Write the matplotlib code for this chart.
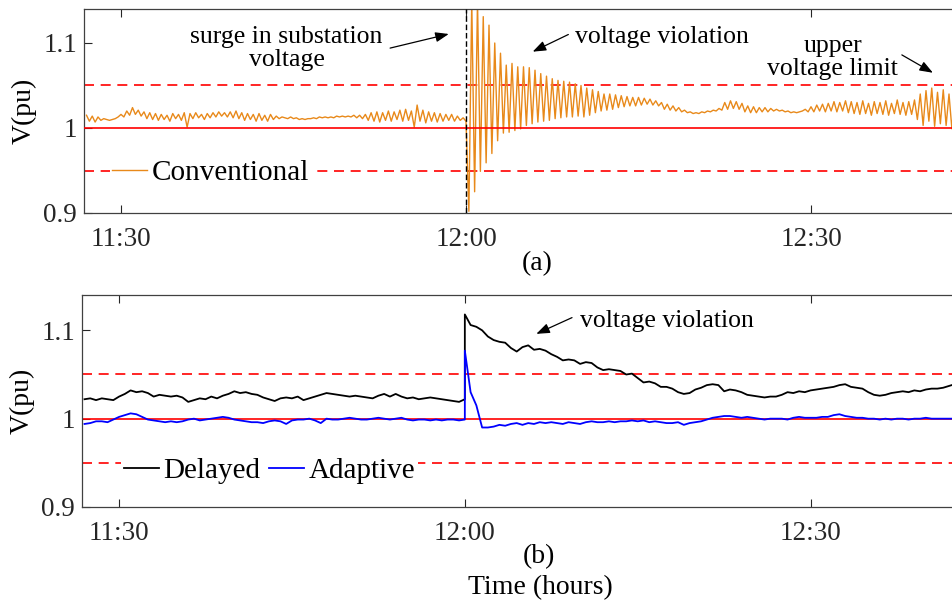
import numpy as np
import matplotlib.pyplot as plt

plt.rcParams['font.family'] = ['Liberation Serif', 'DejaVu Serif']

# time in minutes after 11:00, sampled at fixed steps from the start value
t_a_pre0, t_a_post0, step_a = 27.0, 60.0, 0.25
t_b_pre0, t_b_post0, step_b = 27.0, 60.0, 0.5

# (a) conventional control, before and after the surge at 12:00
conv_pre = [1.015, 1.008, 1.014, 1.007, 1.013, 1.009, 1.011,
            1.010, 1.009, 1.010, 1.011,
            1.013, 1.016, 1.013, 1.020, 1.015, 1.024, 1.016, 1.021, 1.014,
            1.019, 1.011, 1.018, 1.010, 1.017, 1.009, 1.016, 1.010, 1.015,
            1.008, 1.017, 1.011, 1.016, 1.009, 1.018, 1.001, 1.017,
            1.011, 1.018, 1.012, 1.016, 1.010, 1.017, 1.012, 1.018, 1.013,
            1.019, 1.014, 1.018, 1.013, 1.019, 1.012, 1.020, 1.011, 1.018,
            1.009, 1.017, 1.010,
            1.016, 1.008, 1.017, 1.009, 1.015, 1.008, 1.016, 1.010, 1.014,
            1.011, 1.013, 1.012,
            1.011, 1.013, 1.011, 1.012, 1.010, 1.011, 1.010, 1.011, 1.011,
            1.012, 1.011, 1.013, 1.012, 1.013, 1.012, 1.013, 1.012, 1.014,
            1.013, 1.014, 1.013, 1.014, 1.013, 1.015, 1.012, 1.015, 1.011,
            1.016,
            1.009, 1.018, 1.008, 1.019, 1.007, 1.018, 1.009, 1.020, 1.008,
            1.019, 1.010, 1.021, 1.008, 1.022, 1.009, 1.020, 1.001, 1.027,
            1.008, 1.021, 1.006, 1.019, 1.008, 1.018, 1.007, 1.017, 1.008,
            1.016, 1.009, 1.016, 1.008, 1.014, 1.009, 1.012, 1.008]
conv_post = [1.008, 0.902, 1.150, 0.925, 1.150, 0.949, 1.131, 0.959, 1.121,
             0.970, 1.100, 0.985, 1.088, 0.994, 1.074, 0.995, 1.076, 0.997,
             1.072, 0.999, 1.072, 1.003, 1.071, 1.005, 1.068, 1.007, 1.064,
             1.008, 1.061, 1.009, 1.058, 1.011, 1.056, 1.012, 1.055, 1.013,
             1.054, 1.013, 1.052, 1.014, 1.050, 1.013, 1.047, 1.015, 1.045,
             1.018, 1.043, 1.020, 1.040, 1.021, 1.040, 1.022, 1.039, 1.024,
             1.038, 1.025, 1.037, 1.026, 1.036, 1.026, 1.036, 1.027, 1.035,
             1.028, 1.034, 1.027, 1.032, 1.026,
             1.030, 1.022, 1.028, 1.021, 1.026, 1.020, 1.024, 1.019, 1.021,
             1.018, 1.019, 1.017, 1.018, 1.017, 1.019, 1.018, 1.020, 1.019,
             1.021, 1.020, 1.023, 1.021,
             1.030, 1.022, 1.032, 1.023, 1.031, 1.022, 1.029, 1.019,
             1.026, 1.018, 1.025, 1.018, 1.024, 1.019, 1.024, 1.019, 1.023,
             1.020, 1.022, 1.020, 1.021, 1.019, 1.020, 1.018, 1.019, 1.018,
             1.019, 1.020,
             1.022, 1.019, 1.025, 1.019, 1.027, 1.020, 1.028, 1.019, 1.029,
             1.020, 1.031, 1.019, 1.030, 1.020, 1.032, 1.018,
             1.031, 1.017, 1.030, 1.016, 1.032, 1.017, 1.029, 1.015, 1.031,
             1.017, 1.030, 1.016, 1.032, 1.015, 1.029, 1.017, 1.033, 1.016,
             1.030, 1.015, 1.031, 1.016, 1.033,
             1.010, 1.040, 1.003, 1.044, 1.008, 1.047, 1.002, 1.042, 1.005,
             1.045, 1.003, 1.040, 0.999, 1.038]

# (b) delayed and adaptive control
delayed_pre = [1.022, 1.023, 1.021, 1.023, 1.022, 1.021, 1.025, 1.028, 1.032,
               1.030, 1.031, 1.029, 1.025, 1.027, 1.026, 1.025, 1.026, 1.024,
               1.019, 1.021, 1.023, 1.022, 1.025, 1.023, 1.026, 1.028, 1.031,
               1.029, 1.030, 1.028, 1.027, 1.024, 1.022, 1.020, 1.023, 1.024,
               1.023, 1.025, 1.021, 1.023, 1.025, 1.027, 1.029, 1.028, 1.027,
               1.026, 1.025, 1.026, 1.025, 1.024, 1.023, 1.026, 1.028, 1.025,
               1.028, 1.025, 1.023, 1.024, 1.022, 1.023, 1.024, 1.023, 1.022,
               1.021, 1.020, 1.019, 1.022]
delayed_post = [1.118, 1.106, 1.104, 1.100, 1.093, 1.089, 1.087, 1.086, 1.080,
                1.076, 1.081, 1.083, 1.078, 1.079, 1.077, 1.073, 1.070, 1.066,
                1.067, 1.066, 1.062, 1.064, 1.063, 1.058, 1.055, 1.056, 1.055,
                1.054, 1.050, 1.051, 1.046, 1.041, 1.042, 1.040, 1.036, 1.036,
                1.034, 1.030, 1.028, 1.029, 1.033, 1.035, 1.038, 1.039, 1.038,
                1.031, 1.033, 1.032, 1.030, 1.027, 1.026, 1.025, 1.024, 1.025,
                1.025, 1.027, 1.030, 1.029, 1.031, 1.030, 1.032, 1.033, 1.034,
                1.035, 1.036, 1.038, 1.039, 1.036, 1.035, 1.034, 1.030, 1.027,
                1.026, 1.027, 1.029, 1.030, 1.031, 1.030, 1.032, 1.031, 1.033,
                1.034, 1.034, 1.035, 1.037, 1.039]
adaptive_pre = [0.994, 0.995, 0.997, 0.997, 0.996, 0.999, 1.002, 1.004, 1.006,
                1.005, 1.002, 0.999, 0.998, 0.997, 0.996, 0.997, 0.996, 0.997,
                0.999, 1.000, 0.998, 0.999, 1.000, 1.001, 1.002, 1.001, 0.999,
                0.998, 0.997, 0.996, 0.996, 0.995, 0.997, 0.998, 0.997, 0.994,
                0.998, 0.999, 0.999, 1.000, 0.998, 0.995, 1.000, 0.999, 0.999,
                1.000, 1.001, 1.000, 0.999, 0.999, 1.000, 1.001, 1.000, 0.999,
                1.000, 1.001, 0.999, 0.998, 0.999, 0.999, 0.998, 0.999, 0.998,
                0.999, 0.999, 0.998, 0.999]
adaptive_post = [1.077, 1.030, 1.015, 0.990, 0.990, 0.991, 0.993, 0.992, 0.994,
                 0.995, 0.993, 0.995, 0.994, 0.996, 0.995, 0.996, 0.995, 0.994,
                 0.996, 0.995, 0.994, 0.996, 0.997, 0.996, 0.996, 0.997, 0.996,
                 0.997, 0.997, 0.998, 0.997, 0.998, 0.996, 0.997, 0.996, 0.995,
                 0.995, 0.996, 0.993, 0.995, 0.996, 0.997, 0.999, 1.001, 1.002,
                 1.003, 1.003, 1.002, 1.001, 1.002, 1.001, 1.000, 0.999, 1.000,
                 1.000, 1.000, 0.999, 1.001, 1.002, 1.001, 1.001, 1.001, 1.002,
                 1.002, 1.004, 1.005, 1.003, 1.002, 1.001, 1.001, 1.000, 1.000,
                 0.999, 1.000, 0.999, 1.000, 1.000, 0.999, 1.000, 1.000, 1.001,
                 1.000, 1.000, 1.000, 1.000, 1.000]

v_upper, v_nom, v_lower = 1.05, 1.0, 0.95
xticks = [30, 60, 90]
xticklabels = ['11:30', '12:00', '12:30']
yticks = [0.9, 1.0, 1.1]
yticklabels = ['0.9', '1', '1.1']


def time_axis(start, step, n):
    return start + step*np.arange(n)


t_conv = np.concatenate([time_axis(t_a_pre0, step_a, len(conv_pre)),
                         time_axis(t_a_post0, step_a, len(conv_post))])
conv = np.array(conv_pre + conv_post)
t_del = np.concatenate([time_axis(t_b_pre0, step_b, len(delayed_pre)),
                        time_axis(t_b_post0, step_b, len(delayed_post))])
delayed = np.array(delayed_pre + delayed_post)
t_ada = np.concatenate([time_axis(t_b_pre0, step_b, len(adaptive_pre)),
                        time_axis(t_b_post0, step_b, len(adaptive_post))])
adaptive = np.array(adaptive_pre + adaptive_post)

W, H = 953, 603
fig = plt.figure(figsize=(W/100, H/100), dpi=100)
ax1 = fig.add_axes([84/W, 1-213/H, 912/W, 204/H])
ax2 = fig.add_axes([82/W, 1-507/H, 914/W, 212/H])

red_dash = (0, (6, 4))
for ax in (ax1, ax2):
    ax.axhline(v_upper, color='#ff0000', lw=1.2, ls=red_dash, zorder=1)
    ax.axhline(v_lower, color='#ff0000', lw=1.2, ls=red_dash, zorder=1)

ax1.plot(t_conv, conv, color='#e8891a', lw=1.0, label='Conventional', zorder=2)
ax1.axhline(v_nom, color='#ff0000', lw=1.2, zorder=3)
ax1.axvline(60, color='k', lw=1.0, ls=(0, (4, 2)), zorder=4)

ax2.plot(t_del, delayed, color='k', lw=1.3, label='Delayed', zorder=3)
ax2.axhline(v_nom, color='#ff0000', lw=1.2, zorder=2)
ax2.plot(t_ada, adaptive, color='#0000ff', lw=1.3, label='Adaptive', zorder=4)

xmax = 60 + (996-466)/11.5
xmin = 60 - (466-84)/11.5
for ax in (ax1, ax2):
    ax.set_xlim(xmin, xmax)
    ax.set_ylim(0.9, 1.14)
    ax.set_xticks(xticks)
    ax.set_xticklabels(xticklabels)
    ax.set_yticks(yticks)
    ax.set_yticklabels(yticklabels)
    ax.tick_params(direction='in', top=True, right=True, length=6, width=0.8,
                   labelsize=19.5, colors='#262626', pad=10)
    ax.tick_params(axis='y', pad=5)
    for s in ax.spines.values():
        s.set_color('#404040')
        s.set_linewidth(0.9)
    ax.set_ylabel('V(pu)', fontsize=20)
    ax.yaxis.set_label_coords(-0.0515, 0.5)

leg1 = ax1.legend(loc='center left', bbox_to_anchor=(0.028, 0.196), fontsize=21,
                  handlelength=1.2, handletextpad=0.15, borderpad=0.1,
                  borderaxespad=0, frameon=True, fancybox=False)
leg1.get_frame().set_edgecolor('none')
leg1.get_frame().set_alpha(1)
leg2 = ax2.legend(loc='center left', bbox_to_anchor=(0.043, 0.17), fontsize=21,
                  ncol=2, handlelength=1.2, handletextpad=0.15,
                  columnspacing=0.3, borderpad=0.1, borderaxespad=0,
                  frameon=True, fancybox=False)
leg2.get_frame().set_edgecolor('none')
leg2.get_frame().set_alpha(1)

arrow = dict(arrowstyle='-|>,head_length=0.8,head_width=0.3', color='k',
             lw=0.9, shrinkA=0, shrinkB=0)

# annotations on (a)
ax1.text(44.4, 1.0935, 'surge in substation\nvoltage', fontsize=18.5,
         ha='center', va='center', linespacing=1.05)
ax1.annotate('', xy=(58.5, 1.1106), xytext=(53.4, 1.094), arrowprops=arrow)
ax1.text(77.0, 1.107, 'voltage violation', fontsize=18.5, ha='center', va='center')
ax1.annotate('', xy=(65.8, 1.0898), xytext=(68.9, 1.110), arrowprops=arrow)
ax1.text(91.9, 1.083, 'upper\nvoltage limit', fontsize=18.5, ha='center',
         va='center', linespacing=1.05)
ax1.annotate('', xy=(100.6, 1.065), xytext=(97.9, 1.086), arrowprops=arrow)

# annotations on (b)
ax2.text(77.5, 1.111, 'voltage violation', fontsize=18.5, ha='center', va='center')
ax2.annotate('', xy=(66.2, 1.096), xytext=(69.3, 1.1144), arrowprops=arrow)

fig.text(537/W, 1-264/H, '(a)', fontsize=20, ha='center', va='center')
fig.text(539/W, 1-557/H, '(b)', fontsize=20, ha='center', va='center')
fig.text(540/W, 1-588/H, 'Time (hours)', fontsize=20, ha='center', va='center')

fig.savefig('out.png', dpi=100)
